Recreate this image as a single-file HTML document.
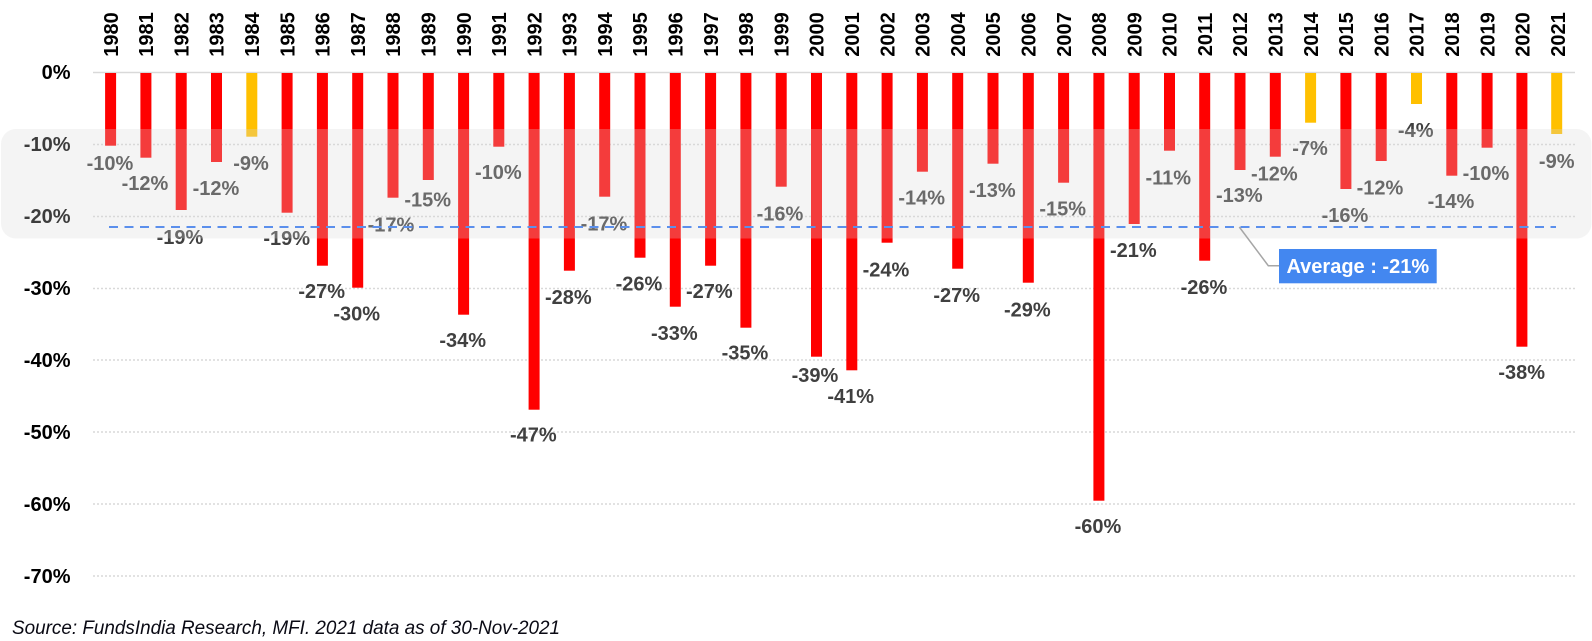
<!DOCTYPE html>
<html>
<head>
<meta charset="utf-8">
<style>
html,body{margin:0;padding:0;background:#fff;}
svg{display:block;}
text{font-family:"Liberation Sans",Arial,sans-serif;}
</style>
</head>
<body>
<svg width="1592" height="641" viewBox="0 0 1592 641" xmlns="http://www.w3.org/2000/svg">
<rect x="0" y="0" width="1592" height="641" fill="#fff"/>
<!-- gridlines -->
<g stroke="#d9d9d9" stroke-width="1.5" stroke-dasharray="2,2">
<line x1="93" y1="144.5" x2="1575" y2="144.5"/>
<line x1="93" y1="216.5" x2="1575" y2="216.5"/>
<line x1="93" y1="288.5" x2="1575" y2="288.5"/>
<line x1="93" y1="360" x2="1575" y2="360"/>
<line x1="93" y1="432" x2="1575" y2="432"/>
<line x1="93" y1="504" x2="1575" y2="504"/>
<line x1="93" y1="576" x2="1575" y2="576"/>
</g>
<line x1="93" y1="72.5" x2="1575" y2="72.5" stroke="#d9d9d9" stroke-width="1.5"/>

<!-- y axis labels -->
<g font-size="20" font-weight="bold" fill="#000" text-anchor="end">
<text x="70.5" y="79.2">0%</text>
<text x="70.5" y="151.2">-10%</text>
<text x="70.5" y="223.2">-20%</text>
<text x="70.5" y="295.2">-30%</text>
<text x="70.5" y="367">-40%</text>
<text x="70.5" y="439">-50%</text>
<text x="70.5" y="511">-60%</text>
<text x="70.5" y="583">-70%</text>
</g>

<!-- year labels -->
<g font-size="20" font-weight="bold" fill="#000" text-anchor="middle">
<text transform="translate(117.8,34.5) rotate(-90)">1980</text>
<text transform="translate(153.1,34.5) rotate(-90)">1981</text>
<text transform="translate(188.4,34.5) rotate(-90)">1982</text>
<text transform="translate(223.7,34.5) rotate(-90)">1983</text>
<text transform="translate(259.0,34.5) rotate(-90)">1984</text>
<text transform="translate(294.3,34.5) rotate(-90)">1985</text>
<text transform="translate(329.6,34.5) rotate(-90)">1986</text>
<text transform="translate(364.9,34.5) rotate(-90)">1987</text>
<text transform="translate(400.2,34.5) rotate(-90)">1988</text>
<text transform="translate(435.5,34.5) rotate(-90)">1989</text>
<text transform="translate(470.8,34.5) rotate(-90)">1990</text>
<text transform="translate(506.0,34.5) rotate(-90)">1991</text>
<text transform="translate(541.3,34.5) rotate(-90)">1992</text>
<text transform="translate(576.6,34.5) rotate(-90)">1993</text>
<text transform="translate(611.9,34.5) rotate(-90)">1994</text>
<text transform="translate(647.2,34.5) rotate(-90)">1995</text>
<text transform="translate(682.5,34.5) rotate(-90)">1996</text>
<text transform="translate(717.8,34.5) rotate(-90)">1997</text>
<text transform="translate(753.1,34.5) rotate(-90)">1998</text>
<text transform="translate(788.4,34.5) rotate(-90)">1999</text>
<text transform="translate(823.7,34.5) rotate(-90)">2000</text>
<text transform="translate(859.0,34.5) rotate(-90)">2001</text>
<text transform="translate(894.3,34.5) rotate(-90)">2002</text>
<text transform="translate(929.6,34.5) rotate(-90)">2003</text>
<text transform="translate(964.9,34.5) rotate(-90)">2004</text>
<text transform="translate(1000.2,34.5) rotate(-90)">2005</text>
<text transform="translate(1035.5,34.5) rotate(-90)">2006</text>
<text transform="translate(1070.8,34.5) rotate(-90)">2007</text>
<text transform="translate(1106.1,34.5) rotate(-90)">2008</text>
<text transform="translate(1141.4,34.5) rotate(-90)">2009</text>
<text transform="translate(1176.7,34.5) rotate(-90)">2010</text>
<text transform="translate(1211.9,34.5) rotate(-90)">2011</text>
<text transform="translate(1247.2,34.5) rotate(-90)">2012</text>
<text transform="translate(1282.5,34.5) rotate(-90)">2013</text>
<text transform="translate(1317.8,34.5) rotate(-90)">2014</text>
<text transform="translate(1353.1,34.5) rotate(-90)">2015</text>
<text transform="translate(1388.4,34.5) rotate(-90)">2016</text>
<text transform="translate(1423.7,34.5) rotate(-90)">2017</text>
<text transform="translate(1459.0,34.5) rotate(-90)">2018</text>
<text transform="translate(1494.3,34.5) rotate(-90)">2019</text>
<text transform="translate(1529.6,34.5) rotate(-90)">2020</text>
<text transform="translate(1564.9,34.5) rotate(-90)">2021</text>
</g>

<!-- bars -->
<g fill="#ff0000">
<rect x="105.1" y="73" width="11" height="72.7"/>
<rect x="140.4" y="73" width="11" height="84.7"/>
<rect x="175.7" y="73" width="11" height="137"/>
<rect x="211.0" y="73" width="11" height="89"/>
<rect x="246.3" y="73" width="11" height="63.7" fill="#ffc000"/>
<rect x="281.6" y="73" width="11" height="139.7"/>
<rect x="316.9" y="73" width="11" height="192.7"/>
<rect x="352.2" y="73" width="11" height="214.7"/>
<rect x="387.5" y="73" width="11" height="124.7"/>
<rect x="422.8" y="73" width="11" height="107"/>
<rect x="458.1" y="73" width="11" height="241.7"/>
<rect x="493.3" y="73" width="11" height="73.7"/>
<rect x="528.6" y="73" width="11" height="336.7"/>
<rect x="563.9" y="73" width="11" height="197.7"/>
<rect x="599.2" y="73" width="11" height="123.7"/>
<rect x="634.5" y="73" width="11" height="184.7"/>
<rect x="669.8" y="73" width="11" height="233.7"/>
<rect x="705.1" y="73" width="11" height="192.7"/>
<rect x="740.4" y="73" width="11" height="254.7"/>
<rect x="775.7" y="73" width="11" height="113.7"/>
<rect x="811.0" y="73" width="11" height="283.7"/>
<rect x="846.3" y="73" width="11" height="297.3"/>
<rect x="881.6" y="73" width="11" height="169.7"/>
<rect x="916.9" y="73" width="11" height="98.7"/>
<rect x="952.2" y="73" width="11" height="195.7"/>
<rect x="987.5" y="73" width="11" height="90.7"/>
<rect x="1022.8" y="73" width="11" height="209.7"/>
<rect x="1058.1" y="73" width="11" height="109.7"/>
<rect x="1093.4" y="73" width="11" height="427.7"/>
<rect x="1128.7" y="73" width="11" height="151"/>
<rect x="1164.0" y="73" width="11" height="77.7"/>
<rect x="1199.2" y="73" width="11" height="187.7"/>
<rect x="1234.5" y="73" width="11" height="97"/>
<rect x="1269.8" y="73" width="11" height="83.7"/>
<rect x="1305.1" y="73" width="11" height="49.7" fill="#ffc000"/>
<rect x="1340.4" y="73" width="11" height="116"/>
<rect x="1375.7" y="73" width="11" height="88"/>
<rect x="1411.0" y="73" width="11" height="31" fill="#ffc000"/>
<rect x="1446.3" y="73" width="11" height="102.7"/>
<rect x="1481.6" y="73" width="11" height="74.7"/>
<rect x="1516.4" y="73" width="11" height="273.7"/>
<rect x="1551.2" y="73" width="11" height="61" fill="#ffc000"/>
</g>

<!-- data labels -->
<g font-size="20" font-weight="bold" fill="#404040" text-anchor="middle">
<text x="110" y="170.2">-10%</text>
<text x="145" y="190.2">-12%</text>
<text x="180" y="244.2">-19%</text>
<text x="216" y="195.2">-12%</text>
<text x="251" y="170.2">-9%</text>
<text x="286.7" y="245.2">-19%</text>
<text x="321.7" y="297.9">-27%</text>
<text x="356.7" y="320.5">-30%</text>
<text x="391" y="231.7">-17%</text>
<text x="427.7" y="206.5">-15%</text>
<text x="462.7" y="347.2">-34%</text>
<text x="498.3" y="178.9">-10%</text>
<text x="533.3" y="441.5">-47%</text>
<text x="568.3" y="303.9">-28%</text>
<text x="604" y="230.5">-17%</text>
<text x="639" y="290.5">-26%</text>
<text x="674.3" y="339.9">-33%</text>
<text x="709.3" y="298.2">-27%</text>
<text x="745" y="359.5">-35%</text>
<text x="780" y="220.5">-16%</text>
<text x="815" y="382.2">-39%</text>
<text x="850.7" y="403.2">-41%</text>
<text x="886" y="276.5">-24%</text>
<text x="921.7" y="204.5">-14%</text>
<text x="956.7" y="302.2">-27%</text>
<text x="992.3" y="197.2">-13%</text>
<text x="1027.3" y="316.5">-29%</text>
<text x="1062.7" y="215.5">-15%</text>
<text x="1098" y="533.2">-60%</text>
<text x="1133.3" y="257.2">-21%</text>
<text x="1168.3" y="184.5">-11%</text>
<text x="1204" y="294.2">-26%</text>
<text x="1239.3" y="202.2">-13%</text>
<text x="1274.3" y="180.5">-12%</text>
<text x="1310" y="154.9">-7%</text>
<text x="1345" y="222.2">-16%</text>
<text x="1380" y="194.5">-12%</text>
<text x="1415.7" y="137.2">-4%</text>
<text x="1451" y="208.2">-14%</text>
<text x="1486" y="179.9">-10%</text>
<text x="1521.7" y="378.9">-38%</text>
<text x="1556.7" y="167.9">-9%</text>
</g>

<!-- band overlay -->
<rect x="1" y="129" width="1590.5" height="109.5" rx="15" ry="15" fill="rgb(215,215,215)" fill-opacity="0.28"/>

<!-- average line -->
<line x1="109" y1="227" x2="1556" y2="227" stroke="#5b8fec" stroke-width="2" stroke-dasharray="9,6.5"/>

<!-- callout -->
<polyline points="1239.3,227 1268.3,265.7 1279,265.7" fill="none" stroke="#a6a6a6" stroke-width="1.5"/>
<rect x="1279" y="249" width="157.7" height="34.3" fill="#4387f0"/>
<text x="1357.8" y="273.2" font-size="20" font-weight="bold" fill="#fff" text-anchor="middle">Average : -21%</text>

<!-- source -->
<text x="12" y="634" font-size="19" font-style="italic" fill="#0a0a14" textLength="548" lengthAdjust="spacingAndGlyphs">Source: FundsIndia Research, MFI. 2021 data as of 30-Nov-2021</text>
</svg>
</body>
</html>
